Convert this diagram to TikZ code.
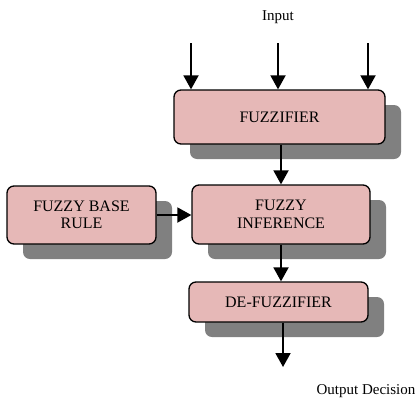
\documentclass[tikz,border=0pt]{standalone}
\usepackage{fontspec}
\setmainfont{Liberation Serif}
\usetikzlibrary{arrows.meta,shadows}
\definecolor{boxfill}{HTML}{E6B8B7}
\definecolor{shadowgray}{HTML}{808080}
\begin{document}
\begin{tikzpicture}[x=1pt,y=-1pt,
  blk/.style={draw=black, line width=1.3pt, fill=boxfill, rounded corners=7pt,
    align=center, inner sep=0pt, font=\fontsize{16}{17.5}\selectfont,
    drop shadow={shadow xshift=16pt, shadow yshift=-15pt, fill=shadowgray, opacity=1, draw=none}},
  arr/.style={line width=1.9pt, -{Triangle[length=14pt,width=15pt]}},
  lbl/.style={font=\fontsize{15}{17.5}\selectfont, inner sep=0pt}]
\useasboundingbox (0,0) rectangle (419,399);
\node[lbl] (in) at (278,17) {Input};
\node[lbl] (outlbl) at (366,391) {Output Decision};
\node[blk, minimum width=211pt, minimum height=54pt] (fuzz) at (279.5,117) {FUZZIFIER};
\node[blk, minimum width=178pt, minimum height=59pt] (inf) at (281,214.5) {FUZZY\\INFERENCE};
\node[blk, minimum width=149pt, minimum height=58pt] (base) at (81.5,215) {FUZZY BASE\\RULE};
\node[blk, minimum width=179pt, minimum height=40pt] (def) at (278.5,302) {DE-FUZZIFIER};
\coordinate (i1) at (191,43);
\coordinate (i2) at (278,43);
\coordinate (i3) at (368,43);
\coordinate (o) at (283,367);
\draw[arr] (i1) -- (i1 |- fuzz.north);
\draw[arr] (i2) -- (i2 |- fuzz.north);
\draw[arr] (i3) -- (i3 |- fuzz.north);
\draw[arr] (fuzz.south -| inf.north) -- (inf.north);
\draw[arr] (base.east) -- (base.east -| inf.west);
\draw[arr] (inf.south) -- (inf.south |- def.north);
\draw[arr] (def.south -| o) -- (o);
\end{tikzpicture}
\end{document}
